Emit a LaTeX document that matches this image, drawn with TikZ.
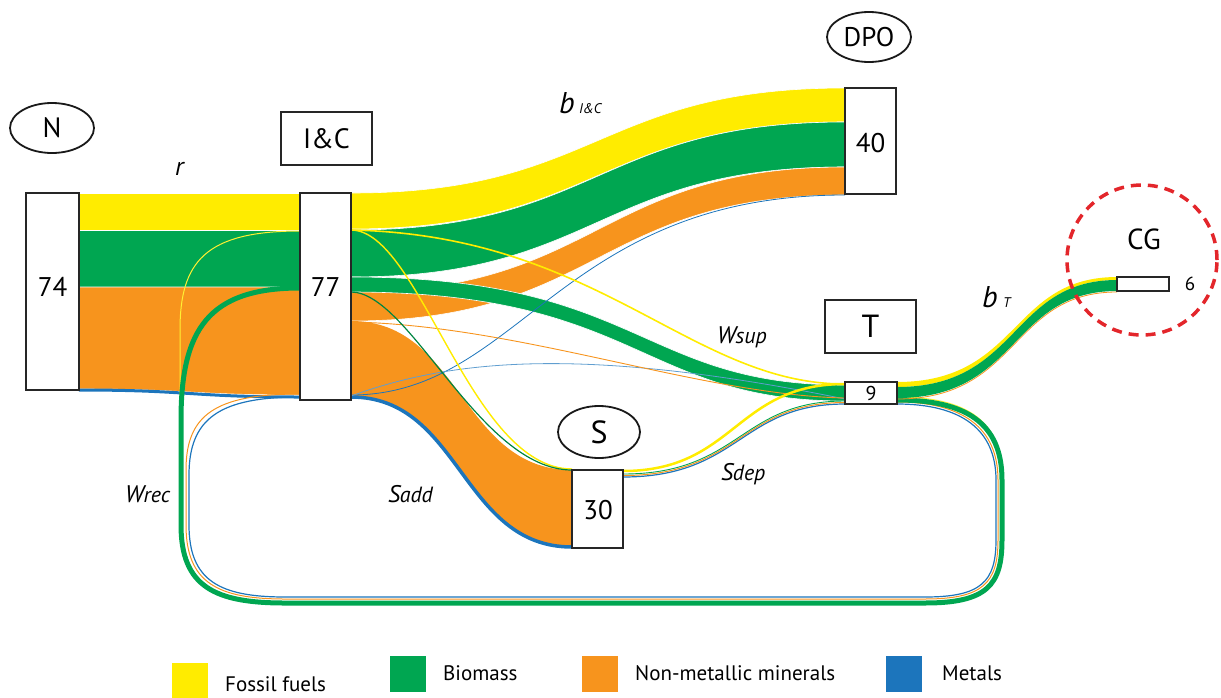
\documentclass[tikz,border=0pt]{standalone}
\usepackage{fontspec}
\setmainfont{PT Sans}
\usetikzlibrary{shapes.geometric}
\definecolor{fy}{HTML}{FFEC00}
\definecolor{fg}{HTML}{00A651}
\definecolor{fo}{HTML}{F7941D}
\definecolor{fb}{HTML}{1C75BC}
\definecolor{cgred}{HTML}{E3262B}
% ribbon: options, x0, y0top, y0bot, x1, y1top, y1bot, ctrl x0, ctrl x1
\newcommand{\rib}[9]{\fill[#1] (#2,#3) .. controls (#8,#3) and (#9,#6) .. (#5,#6) -- (#5,#7) .. controls (#9,#7) and (#8,#4) .. (#2,#4) -- cycle;}
\begin{document}
\begin{tikzpicture}[x=1pt,y=-1pt,
  box/.style={draw=black!85,line width=2.2pt,fill=white,inner sep=0pt},
  ell/.style={ellipse,draw=black!90,line width=1.8pt,inner sep=0pt,fill=white},
  num/.style={inner sep=0pt,font=\fontsize{27}{30}\selectfont},
  big/.style={inner sep=0pt,font=\fontsize{29}{32}\selectfont},
  ital/.style={inner sep=0pt,font=\itshape\fontsize{22}{26}\selectfont},
  sub/.style={inner sep=0pt,font=\itshape\fontsize{14}{16}\selectfont},
  leg/.style={inner sep=0pt,font=\fontsize{21}{24}\selectfont},
  sq/.style={inner sep=0pt,minimum width=36pt,minimum height=36pt},
  rw/.style={draw=white,line width=0.6pt},
  thin/.style={line width=1pt}]
\useasboundingbox (0,0) rectangle (1221,697);

% ---- N -> I&C
\rib{fy,rw}{79}{193}{230}{300}{193}{230}{190}{190}
\rib{fg,rw}{79}{230}{287}{300}{230}{287}{190}{190}
\rib{fo,rw}{79}{287}{389}{300}{287}{395}{190}{190}
\draw[fb,line width=3pt] (79,390) .. controls (190,390) and (190,397) .. (300,397);

% ---- recycling loop (w_rec)
\draw[fy!80,line width=1pt] (300,231) .. controls (205,231) and (180,262) .. (180,330) -- (180,525) .. controls (180,588) and (214,604) .. (285,604) -- (925,604) .. controls (988,604) and (1003,586) .. (1003,540) -- (1003,480) .. controls (1003,421) and (967,397) .. (897,397);
\draw[fo,thin] (300,394) .. controls (215,394) and (186,415) .. (186,470) -- (186,525) .. controls (186,583) and (218,599) .. (285,599) -- (925,599) .. controls (983,599) and (998,583) .. (998,540) -- (998,480) .. controls (998,428) and (963,402) .. (897,402);
\draw[fb,line width=1.2pt] (300,397) .. controls (220,397) and (189,418) .. (189,475) -- (189,525) .. controls (189,581) and (220,597) .. (285,597) -- (925,597) .. controls (981,597) and (996,582) .. (996,540) -- (996,480) .. controls (996,430) and (962,404) .. (897,404);
\draw[fg,line width=5pt] (300,288) .. controls (208,288) and (181,330) .. (181,420) -- (181,525) .. controls (181,587) and (215,603) .. (285,603) -- (925,603) .. controls (987,603) and (1002,585) .. (1002,540) -- (1002,480) .. controls (1002,423) and (966,400) .. (897,400);

% ---- I&C -> DPO, S, T
\rib{fy,rw}{351}{193}{229}{845}{88}{122}{598}{598}
\rib{fg,rw}{351}{230}{277}{845}{122}{167}{598}{598}
\rib{fo,rw}{351}{292}{321}{845}{167}{195}{598}{598}
\rib{fo}{351}{321}{396}{572}{470}{546}{461}{461}
\draw[fb,line width=3.5pt] (351,397) .. controls (461,397) and (461,547) .. (572,547);
\rib{fg,rw}{351}{277}{292}{845}{385}{401}{640}{640}

% thin flows
\draw[fb,line width=0.8pt] (351,395) .. controls (520,395) and (560,195) .. (845,195);
\draw[fb!70,line width=0.8pt] (351,396) .. controls (450,360) and (580,345) .. (845,399);
\draw[fo,line width=0.9pt] (351,322) .. controls (520,325) and (700,395) .. (845,398);
\draw[fy,line width=1.6pt] (351,230) .. controls (600,235) and (690,384) .. (845,384);
\draw[fy,line width=1.4pt] (351,230) .. controls (420,230) and (470,469) .. (572,469);
\draw[fg!80!black,line width=1.2pt] (351,292) .. controls (410,292) and (480,470) .. (572,470);

% ---- S -> T (s_dep)
\draw[fb,line width=1.2pt] (623,477) .. controls (740,477) and (740,404) .. (845,404);
\draw[fo,line width=1pt] (623,475.5) .. controls (740,475.5) and (740,402.5) .. (845,402.5);
\draw[fg,line width=0.9pt] (623,474) .. controls (740,474) and (740,401) .. (845,401);
\draw[fy,line width=2.5pt] (623,471) .. controls (735,471) and (735,384) .. (845,384);

% ---- T -> CG (b_T)
\draw[fo,line width=0.8pt] (897,399) .. controls (1020,399) and (1010,292) .. (1117,292);
\rib{fy}{897}{382}{387}{1117}{277}{280}{1020}{1010}
\rib{fg}{897}{387}{398}{1117}{280}{291}{1020}{1010}

% ---- boxes
\node[box,minimum width=53pt,minimum height=197pt] (Nbox) at (52.5,291.5) {};
\node[box,minimum width=51pt,minimum height=207pt] (ICbox) at (325.5,296.5) {};
\node[box,minimum width=51pt,minimum height=106pt] (DPObox) at (870.5,141) {};
\node[box,minimum width=51pt,minimum height=78pt] (Sbox) at (597.5,509) {};
\node[box,minimum width=52pt,minimum height=22pt] (Tbox) at (871,393) {};
\node[box,minimum width=52pt,minimum height=14pt,line width=2pt] (CGbox) at (1143,284) {};

\node[num] (Nval) at (52.5,287) {74};
\node[num] (ICval) at (325.5,287) {77};
\node[num] (DPOval) at (870.5,143) {40};
\node[num] (Sval) at (598,510) {30};
\node[inner sep=0pt,font=\fontsize{20}{22}\selectfont] (Tval) at (871,393) {9};
\node[inner sep=0pt,font=\fontsize{19}{22}\selectfont] (CGval) at (1190,284) {6};

% ---- stage labels
\node[ell,minimum width=84pt,minimum height=50pt,font=\fontsize{28}{30}\selectfont] (N) at (52,128) {N};
\node[box,line width=2pt,minimum width=91pt,minimum height=53pt,font=\fontsize{28}{30}\selectfont] (IC) at (326.5,138.5) {I\&C};
\node[ell,minimum width=84pt,minimum height=50pt,font=\fontsize{27}{30}\selectfont] (DPO) at (869,37) {DPO};
\node[ell,minimum width=82pt,minimum height=52pt,font=\fontsize{32}{34}\selectfont] (S) at (599,432) {S};
\node[box,line width=2pt,minimum width=91pt,minimum height=53pt,font=\fontsize{32}{34}\selectfont] (T) at (870.5,326.5) {T};
\node[circle,draw=cgred,line width=3.5pt,minimum size=150pt,dash pattern=on 10pt off 7pt] (CGc) at (1142,260) {};
\node[big] (CG) at (1144,239) {CG};

% ---- flow labels
\node[ital,anchor=base west,font=\itshape\fontsize{26}{28}\selectfont] (r) at (175,175) {r};
\node[ital,anchor=base west,font=\itshape\fontsize{30}{32}\selectfont] (bIC) at (559,113) {b};
\node[sub,anchor=base west] (bICs) at (579,113) {I\&C};
\node[ital,anchor=base west,font=\itshape\fontsize{30}{32}\selectfont] (bT) at (982,307) {b};
\node[sub,anchor=base west] (bTs) at (1003,307) {T};
\node[ital,anchor=base west] (wsup) at (717,343) {{\fontsize{24}{26}\selectfont W}\kern-0.5pt sup};
\node[ital,anchor=base west] (sdep) at (721,480) {{\fontsize{24}{26}\selectfont S}\kern-0.5pt dep};
\node[ital,anchor=base west] (wrec) at (125,502) {{\fontsize{24}{26}\selectfont W}\kern-0.5pt rec};
\node[ital,anchor=base west] (sadd) at (388,502) {{\fontsize{24}{26}\selectfont S}\kern-0.5pt add};

% ---- legend
\node[sq,fill=fy] (Ly) at (190,681) {};
\node[leg,anchor=west] (Lyt) at (225,684) {Fossil fuels};
\node[sq,fill=fg] (Lg) at (408,674) {};
\node[leg,anchor=west] (Lgt) at (443,673) {Biomass};
\node[sq,fill=fo] (Lo) at (600,674) {};
\node[leg,anchor=west] (Lot) at (635,673) {Non-metallic minerals};
\node[sq,fill=fb] (Lb) at (904,674) {};
\node[leg,anchor=west] (Lbt) at (942,673) {Metals};
\end{tikzpicture}
\end{document}
